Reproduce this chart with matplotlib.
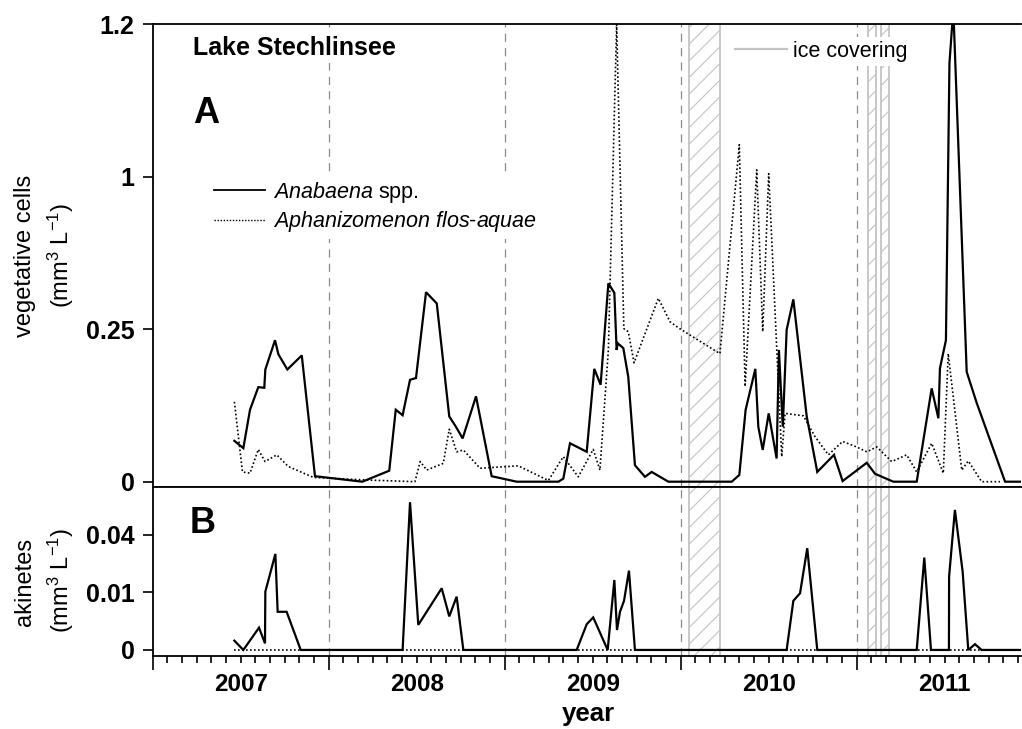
import numpy as np
import matplotlib
matplotlib.use('Agg')
import matplotlib.pyplot as plt
from matplotlib.lines import Line2D

plt.rcParams['font.family'] = ['Liberation Sans', 'DejaVu Sans']
plt.rcParams['mathtext.fontset'] = 'custom'
plt.rcParams['mathtext.rm'] = 'Liberation Sans'
plt.rcParams['mathtext.it'] = 'Liberation Sans:italic'
plt.rcParams['mathtext.bf'] = 'Liberation Sans:bold'
plt.rcParams['hatch.linewidth'] = 0.8

# ---------------- data ----------------
ana_veg_t = [2007.464, 2007.515, 2007.553, 2007.600, 2007.634, 2007.640, 2007.695, 2007.714, 2007.765, 2007.847,
             2007.922, 2008.191, 2008.344, 2008.381, 2008.420, 2008.462, 2008.496, 2008.553, 2008.614, 2008.685,
             2008.723, 2008.761, 2008.837, 2008.926, 2009.068, 2009.305, 2009.333, 2009.371, 2009.466, 2009.509,
             2009.545, 2009.589, 2009.623, 2009.636, 2009.642, 2009.674, 2009.702, 2009.740, 2009.797, 2009.835,
             2009.930, 2010.290, 2010.333, 2010.369, 2010.424, 2010.441, 2010.466, 2010.500, 2010.545, 2010.558,
             2010.580, 2010.602, 2010.640, 2010.716, 2010.776, 2010.871, 2010.920, 2011.057, 2011.104, 2011.208,
             2011.341, 2011.426, 2011.464, 2011.473, 2011.507, 2011.527, 2011.549, 2011.625, 2011.682, 2011.843,
             2011.933]
ana_veg = [0.067, 0.055, 0.118, 0.155, 0.154, 0.184, 0.232, 0.209, 0.184, 0.207,
           0.009, 0.0, 0.018, 0.118, 0.109, 0.167, 0.170, 0.432, 0.377, 0.107,
           0.090, 0.071, 0.140, 0.009, 0.0, 0.0, 0.005, 0.063, 0.049, 0.185,
           0.159, 0.476, 0.429, 0.216, 0.227, 0.219, 0.172, 0.027, 0.008, 0.016,
           0.0, 0.0, 0.011, 0.118, 0.185, 0.090, 0.052, 0.112, 0.038, 0.216,
           0.090, 0.249, 0.397, 0.107, 0.016, 0.044, 0.001, 0.031, 0.013, 0.0,
           0.0, 0.153, 0.104, 0.186, 0.232, 1.149, 1.22, 0.180, 0.129, 0.0,
           0.0]

aph_veg_t = [2007.464, 2007.510, 2007.553, 2007.600, 2007.638, 2007.705, 2007.770, 2007.913,
             2008.197, 2008.490, 2008.520, 2008.557, 2008.651, 2008.685, 2008.727, 2008.765, 2008.860,
             2009.077, 2009.248, 2009.333, 2009.418, 2009.503, 2009.541, 2009.589, 2009.636, 2009.677,
             2009.702, 2009.735, 2009.873, 2009.939, 2009.992,
             2010.223, 2010.333, 2010.366, 2010.432, 2010.466, 2010.500, 2010.574, 2010.593, 2010.697,
             2010.763, 2010.839, 2010.920, 2010.999,
             2011.057, 2011.114, 2011.199, 2011.284, 2011.341, 2011.426, 2011.492, 2011.520, 2011.597,
             2011.634, 2011.710, 2011.814]
aph_veg = [0.131, 0.016, 0.014, 0.053, 0.033, 0.044, 0.025, 0.007,
           0.003, 0.0, 0.033, 0.019, 0.030, 0.086, 0.049, 0.052, 0.022,
           0.026, 0.002, 0.041, 0.008, 0.053, 0.019, 0.216, 1.2, 0.253,
           0.246, 0.195, 0.402, 0.287, 0.254,
           0.21, 1.042, 0.156, 1.009, 0.246, 1.004, 0.041, 0.112, 0.108,
           0.074, 0.044, 0.066, 0.057,
           0.049, 0.057, 0.033, 0.044, 0.016, 0.063, 0.014, 0.21, 0.019,
           0.034, 0.0, 0.0]

ana_akin_t = [2007.464, 2007.515, 2007.604, 2007.638, 2007.640, 2007.697, 2007.710, 2007.761, 2007.841,
              2008.420, 2008.462, 2008.509, 2008.642, 2008.685, 2008.727, 2008.765,
              2009.409, 2009.466, 2009.503, 2009.585, 2009.623, 2009.638, 2009.655, 2009.678, 2009.706, 2009.740,
              2010.602, 2010.640, 2010.678, 2010.719, 2010.776,
              2011.341, 2011.384, 2011.422, 2011.524, 2011.525, 2011.558, 2011.602, 2011.634, 2011.672, 2011.710,
              2011.933]
ana_akin = [0.00026, 0.0, 0.0015, 0.00013, 0.0103, 0.0279, 0.0044, 0.0044, 0.0,
            0.0, 0.066, 0.0019, 0.0115, 0.0034, 0.0086, 0.0,
            0.0, 0.002, 0.0032, 0.0, 0.0148, 0.0012, 0.0044, 0.0073, 0.019, 0.0,
            0.0, 0.0073, 0.0097, 0.0313, 0.0,
            0.0, 0.0258, 0.0, 0.0, 0.0163, 0.0593, 0.0185, 0.0, 0.0001, 0.0,
            0.0]

aph_akin_t = [2007.464, 2011.933]
aph_akin = [0.0, 0.0]

ice_start = [2010.050, 2011.065, 2011.140]
ice_end = [2010.223, 2011.110, 2011.183]

year_bounds = [2008, 2009, 2010, 2011]
years = [2007, 2008, 2009, 2010, 2011]

a_ticks = [0, 0.25, 1, 1.2]
a_ticklabels = ['0', '0.25', '1', '1.2']
b_ticks = [0, 0.01, 0.04]
b_ticklabels = ['0', '0.01', '0.04']


# ---------------- scales ----------------
def a_fwd(y):
    y = np.asarray(y, float)
    return np.where(y < 0.25, y / 0.25, np.where(y < 1, 1 + (y - 0.25) / 0.75, 2 + (y - 1) / 0.2))


def a_inv(u):
    u = np.asarray(u, float)
    return np.where(u < 1, 0.25 * u, np.where(u < 2, 0.25 + 0.75 * (u - 1), 1 + 0.2 * (u - 2)))


def b_fwd(y):
    y = np.asarray(y, float)
    return np.sign(y) * np.sqrt(np.abs(y))


def b_inv(u):
    u = np.asarray(u, float)
    return np.sign(u) * u ** 2


W, H = 1022, 729
fig = plt.figure(figsize=(W / 100, H / 100), dpi=100)
left_px, right_px = 152.7, 1021.0
a_top, a_bot = 24.3, 487.3
b_bot = 655.7
axA = fig.add_axes([left_px / W, 1 - a_bot / H, (right_px - left_px) / W, (a_bot - a_top) / H])
axB = fig.add_axes([left_px / W, 1 - b_bot / H, (right_px - left_px) / W, (b_bot - a_bot) / H], sharex=axA)

xmin = 2007.0
xmax = 2007.0 + (right_px - left_px) / 176.0

solid_kw = dict(color='black', lw=1.6, solid_joinstyle='miter', zorder=4)
dot_kw = dict(color='black', lw=1.2, linestyle=(0, (1, 1.4)), zorder=3)

for ax in (axA, axB):
    for xb in year_bounds:
        ax.axvline(xb, color='#8a8a8a', lw=0.9, linestyle=(0, (6.5, 5)), zorder=1)
    for s, e in zip(ice_start, ice_end):
        ax.axvspan(s, e, facecolor='none', edgecolor='#c4c4c4', hatch='//', lw=1.3, zorder=2)
    ax.spines['right'].set_visible(False)
    for sp in ('left', 'top', 'bottom'):
        ax.spines[sp].set_linewidth(1.3)

ytick_font = dict(fontweight='bold', fontsize=18)

# Panel A
axA.plot(aph_veg_t, aph_veg, **dot_kw)
axA.plot(ana_veg_t, ana_veg, **solid_kw)
axA.set_yscale('function', functions=(a_fwd, a_inv))
axA.set_ylim(-0.0092, 1.2)
axA.set_xlim(xmin, xmax)
axA.set_yticks(a_ticks, labels=a_ticklabels, **ytick_font)
axA.yaxis.set_minor_locator(matplotlib.ticker.NullLocator())
axA.tick_params(axis='y', direction='out', length=7.5, width=1.2, pad=5.5)
axA.tick_params(axis='x', which='both', bottom=False, labelbottom=False)

# Panel B
axB.plot(aph_akin_t, aph_akin, **dot_kw)
axB.plot(ana_akin_t, ana_akin, **solid_kw)
axB.set_yscale('function', functions=(b_fwd, b_inv))
axB.set_ylim(-0.0001, 0.08)
axB.set_yticks(b_ticks, labels=b_ticklabels, **ytick_font)
axB.yaxis.set_minor_locator(matplotlib.ticker.NullLocator())
axB.tick_params(axis='y', direction='out', length=7.5, width=1.2, pad=5.5)

axB.set_xticks(years, labels=[''] * len(years))
month_pos = []
month_lab = []
for yr in years:
    for m in range(12):
        p = yr + m / 12.0
        if m == 0 or p > xmax:
            continue
        month_pos.append(p)
        month_lab.append(str(yr) if m == 6 else '')
axB.set_xticks(month_pos, labels=month_lab, minor=True, fontweight='bold', fontsize=17.5)
axB.tick_params(axis='x', which='major', direction='out', length=9.8, width=1.2)
axB.tick_params(axis='x', which='minor', direction='out', length=5.2, width=1.2, pad=7.5)
axB.set_xlim(xmin, xmax)

# Text annotations
axA.text(0.0464, 0.9337, 'Lake Stechlinsee', transform=axA.transAxes, fontsize=18, fontweight='bold',
         va='baseline', ha='left', zorder=6,
         bbox=dict(facecolor='white', edgecolor='none', pad=2))
axA.text(0.0464, 0.786, 'A', transform=axA.transAxes, fontsize=26, fontweight='bold', va='baseline', ha='left')
axB.text(0.0430, 0.7286, 'B', transform=axB.transAxes, fontsize=26, fontweight='bold', va='baseline', ha='left')

# legends
h1 = Line2D([], [], color='black', lw=1.3)
h2 = Line2D([], [], color='black', lw=1.0, linestyle=(0, (1, 1.2)))
leg = axA.legend([h1, h2], [r'$\mathit{Anabaena}$ spp.', r'$\mathit{Aphanizomenon\ flos}$-$\mathit{aquae}$'],
                 loc='upper left', bbox_to_anchor=(0.0652, 0.6737), frameon=True, framealpha=1,
                 edgecolor='none', facecolor='white', fontsize=15.5, handlelength=2.37,
                 handletextpad=0.37, labelspacing=0.21, borderpad=0.2, borderaxespad=0)
leg.set_zorder(5)
axA.add_artist(leg)
h3 = Line2D([], [], color='#c4c4c4', lw=1.6)
leg2 = axA.legend([h3], ['ice covering'], loc='upper left', bbox_to_anchor=(0.6657, 0.9732), frameon=True,
                  framealpha=1, edgecolor='none', facecolor='white', fontsize=15.5, handlelength=2.4,
                  handletextpad=0.29, borderpad=0.2, borderaxespad=0)
leg2.set_zorder(5)

# axis labels
fig.text(25 / W, 1 - 255.8 / H, 'vegetative cells', rotation=90, ha='center', va='center', fontsize=17)
fig.text(61 / W, 1 - 255.8 / H, r'(mm$^{3}$ L$^{-1}$)', rotation=90, ha='center', va='center', fontsize=17)
fig.text(25 / W, 1 - 582 / H, 'akinetes', rotation=90, ha='center', va='center', fontsize=17)
fig.text(61 / W, 1 - 580 / H, r'(mm$^{3}$ L$^{-1}$)', rotation=90, ha='center', va='center', fontsize=17)
fig.text(588 / W, 1 - 721 / H, 'year', ha='center', va='baseline', fontsize=18.5, fontweight='bold')

fig.savefig('out.png', dpi=100)
